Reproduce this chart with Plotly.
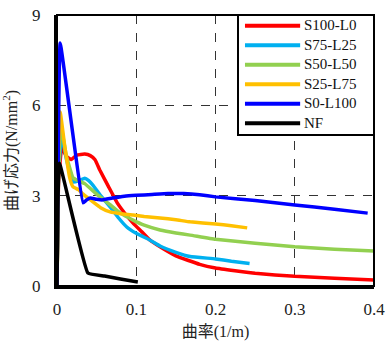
import plotly.graph_objects as go

names = ["S100-L0", "S75-L25", "S50-L50", "S25-L75", "S0-L100", "NF"]
colors = ["#ff0000", "#00b0f0", "#92d050", "#ffc000", "#0000ff", "#000000"]

x_s100 = [0, 0.002, 0.006, 0.012, 0.018, 0.025, 0.035, 0.042, 0.048, 0.054, 0.065, 0.076, 0.086, 0.096, 0.107, 0.117, 0.13, 0.15, 0.18, 0.2, 0.25, 0.3, 0.35, 0.4]
y_s100 = [0, 3.5, 4.6, 4.3, 4.2, 4.35, 4.38, 4.33, 4.19, 3.85, 3.3, 2.76, 2.4, 2.09, 1.8, 1.53, 1.3, 1.0, 0.72, 0.6, 0.42, 0.32, 0.26, 0.2]

x_s75 = [0, 0.002, 0.006, 0.012, 0.02, 0.028, 0.035, 0.04, 0.045, 0.055, 0.067, 0.078, 0.088, 0.1, 0.117, 0.13, 0.15, 0.168, 0.2, 0.22, 0.243]
y_s75 = [0, 3.8, 5.0, 4.2, 3.45, 3.5, 3.58, 3.5, 3.36, 3.0, 2.63, 2.25, 1.96, 1.75, 1.53, 1.33, 1.12, 0.98, 0.9, 0.82, 0.75]

x_s50 = [0, 0.002, 0.005, 0.012, 0.02, 0.025, 0.035, 0.05, 0.067, 0.08, 0.096, 0.11, 0.13, 0.15, 0.168, 0.2, 0.25, 0.3, 0.35, 0.4]
y_s50 = [0, 4.0, 5.3, 4.3, 3.6, 3.52, 3.4, 3.05, 2.7, 2.42, 2.19, 2.02, 1.86, 1.76, 1.69, 1.55, 1.42, 1.3, 1.22, 1.16]

x_s25 = [0, 0.002, 0.004, 0.01, 0.016, 0.02, 0.027, 0.033, 0.045, 0.055, 0.067, 0.08, 0.096, 0.11, 0.13, 0.15, 0.168, 0.2, 0.22, 0.24]
y_s25 = [0, 4.5, 5.78, 4.6, 3.6, 3.3, 3.2, 3.05, 2.8, 2.6, 2.46, 2.4, 2.36, 2.31, 2.26, 2.2, 2.13, 2.06, 2.0, 1.93]

x_s0 = [0, 0.002, 0.004, 0.033, 0.037, 0.042, 0.05, 0.057, 0.07, 0.085, 0.1, 0.12, 0.14, 0.16, 0.18, 0.2, 0.25, 0.3, 0.35, 0.392]
y_s0 = [0, 5.5, 8.07, 2.76, 2.85, 2.92, 2.88, 2.86, 2.92, 2.98, 3.01, 3.04, 3.07, 3.07, 3.03, 2.96, 2.84, 2.69, 2.55, 2.42]

x_nf = [0, 0.001, 0.003, 0.039, 0.06, 0.08, 0.102]
y_nf = [0, 2.5, 4.08, 0.43, 0.33, 0.23, 0.13]

xs = [x_s100, x_s75, x_s50, x_s25, x_s0, x_nf]
ys = [y_s100, y_s75, y_s50, y_s25, y_s0, y_nf]

x_ticks = [0, 0.1, 0.2, 0.3, 0.4]
x_tick_text = ["0", "0.1", "0.2", "0.3", "0.4"]
y_ticks = [0, 3, 6, 9]

serif = "Liberation Serif"
cjk = "Liberation Serif, Noto Sans CJK JP"

fig = go.Figure()
for n, c, x, y in zip(names, colors, xs, ys):
    fig.add_trace(go.Scatter(x=x, y=y, mode="lines", name=n, showlegend=False,
                             line=dict(color=c, width=3.5, shape="spline", smoothing=0.3)))

# custom legend (paper coordinates)
plot_h = 271.0
leg_font = 15
row_px = leg_font * 1.3
row_step = row_px / plot_h
row_top = 1.0 - (1 + row_px / 2) / plot_h
shapes = [dict(type="rect", xref="paper", yref="paper", x0=0, y0=0, x1=1, y1=1,
               line=dict(color="black", width=2), layer="above")]
leg_bottom = row_top - (len(names) - 1) * row_step - (row_px / 2 + 2) / plot_h
shapes.append(dict(type="rect", xref="paper", yref="paper", x0=0.571, x1=1.0,
                   y0=leg_bottom, y1=1.0, line=dict(color="black", width=2),
                   fillcolor="white", layer="above"))
for i, c in enumerate(colors):
    yy = row_top - i * row_step
    shapes.append(dict(type="line", xref="paper", yref="paper", x0=0.593, x1=0.767,
                       y0=yy, y1=yy, line=dict(color=c, width=4), layer="above"))
annotations = [dict(xref="paper", yref="paper", x=0.774, y=1.0, text="<br>".join(names),
                    showarrow=False, xanchor="left", yanchor="top", align="left",
                    font=dict(family=serif, size=leg_font, color="#111"))]

fig.update_layout(
    width=387, height=341,
    margin=dict(l=57, r=13, t=15, b=55, autoexpand=False),
    paper_bgcolor="white", plot_bgcolor="white",
    font=dict(family=serif, color="#222", size=16),
    showlegend=False,
    xaxis=dict(range=[0, 0.4], tickvals=x_ticks, ticktext=x_tick_text, automargin=False,
               tickfont=dict(family=serif, size=17, color="#222"), ticklabelstandoff=6,
               showgrid=True, gridcolor="#333", griddash="dash", gridwidth=1.2,
               showline=True, linecolor="black", linewidth=3, zeroline=False,
               ticks="", title=dict(text="曲率(1/m)", font=dict(family=cjk, size=16), standoff=10)),
    yaxis=dict(range=[0, 9], tickvals=y_ticks, automargin=False,
               tickfont=dict(family=serif, size=17, color="#222"), ticklabelstandoff=10,
               showgrid=True, gridcolor="#333", griddash="dash", gridwidth=1.2,
               showline=True, linecolor="black", linewidth=3, zeroline=False,
               ticks="", title=dict(text="曲げ応力(N/mm<sup>2</sup>)", font=dict(family=cjk, size=16), standoff=12)),
    shapes=shapes,
    annotations=annotations,
)

fig.write_html("out.html")
